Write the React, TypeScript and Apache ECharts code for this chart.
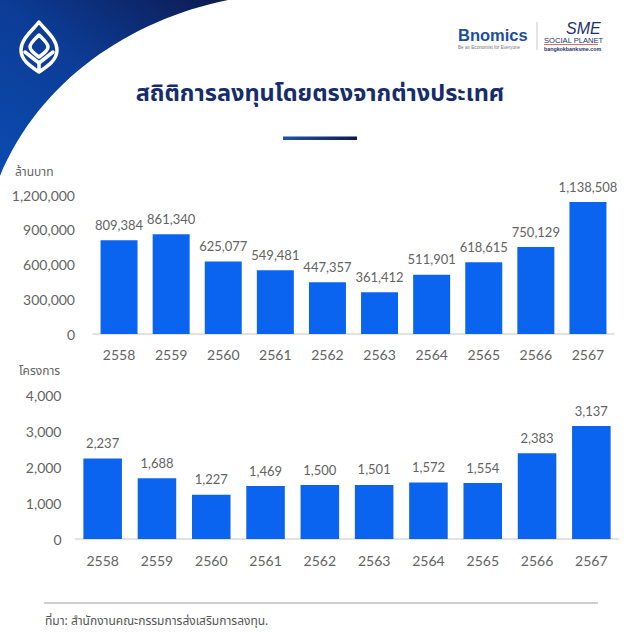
import React, { useEffect, useRef } from "react";
import * as echarts from "echarts";

const years = ["2558", "2559", "2560", "2561", "2562", "2563", "2564", "2565", "2566", "2567"];
const investValues = [809384, 861340, 625077, 549481, 447357, 361412, 511901, 618615, 750129, 1138508];
const projectValues = [2237, 1688, 1227, 1469, 1500, 1501, 1572, 1554, 2383, 3137];

const titleText = "สถิติการลงทุนโดยตรงจากต่างประเทศ";
const topAxisName = "ล้านบาท";
const bottomAxisName = "โครงการ";
const sourceText = "ที่มา: สำนักงานคณะกรรมการส่งเสริมการลงทุน.";

const FONT = "Lato, 'Noto Sans Thai', 'Noto Sans', sans-serif";
const THAI_FONT = "'Noto Sans Thai', 'Noto Sans', Lato, sans-serif";
const LOGO_FONT = "'Liberation Sans', Arial, sans-serif";
const BAR = "#0A64F0";
const GRAY = "#636363";

const fmt = (v: number) => String(v).replace(/\B(?=(\d{3})+(?!\d))/g, ",");

let registered = false;
function registerShapes() {
  if (registered) return;
  registered = true;
  echarts.graphic.registerShape(
    "cornerShape",
    echarts.graphic.extendPath("M0,0 L228,0 C130,20 40,80 0,176 Z", {})
  );
  echarts.graphic.registerShape(
    "budLogo",
    echarts.graphic.extendPath(
      "M39,22 C32,31 21,39 21,50 C21,60 30,66 39,72 C48,66 57,60 57,50 C57,39 46,31 39,22 Z " +
        "M39,35 C35,39 30,43 30,47 C30,51 35,54 39,57 C43,54 48,51 48,47 C48,43 43,39 39,35 Z " +
        "M25,52 L39,63 L53,52 M39,63 L39,71",
      {}
    )
  );
}

export default function App() {
  const ref = useRef<HTMLDivElement>(null);
  useEffect(() => {
    if (!ref.current) return;
    registerShapes();
    const chart = echarts.init(ref.current, undefined, { renderer: "svg" });
    const axisCommon = {
      axisTick: { show: false },
      axisLine: { show: true, lineStyle: { color: "#d9d9d9", width: 1.5 } },
      axisLabel: { color: GRAY, fontSize: 14, fontFamily: FONT, margin: 13 },
    };
    const labelStyle = {
      show: true,
      position: "top",
      distance: 9,
      color: GRAY,
      fontSize: 13,
      fontFamily: FONT,
      formatter: (p: any) => fmt(p.value),
    };
    chart.setOption({
      animation: false,
      backgroundColor: "#ffffff",
      grid: [
        { left: 93, top: 195, width: 521, height: 139 },
        { left: 75.5, top: 395, width: 543, height: 144 },
      ],
      xAxis: [
        { type: "category", data: years, gridIndex: 0, ...axisCommon },
        { type: "category", data: years, gridIndex: 1, ...axisCommon, axisLabel: { ...axisCommon.axisLabel, margin: 14 } },
      ],
      yAxis: [
        {
          type: "value",
          gridIndex: 0,
          min: 0,
          max: 1200000,
          interval: 300000,
          splitLine: { show: false },
          axisLine: { show: false },
          axisTick: { show: false },
          axisLabel: { color: GRAY, fontSize: 14, fontFamily: FONT, margin: 18, formatter: (v: number) => fmt(v) },
        },
        {
          type: "value",
          gridIndex: 1,
          min: 0,
          max: 4000,
          interval: 1000,
          splitLine: { show: false },
          axisLine: { show: false },
          axisTick: { show: false },
          axisLabel: { color: GRAY, fontSize: 14, fontFamily: FONT, margin: 14, formatter: (v: number) => fmt(v) },
        },
      ],
      series: [
        {
          type: "bar",
          xAxisIndex: 0,
          yAxisIndex: 0,
          data: investValues,
          barWidth: "71%",
          itemStyle: { color: BAR },
          label: labelStyle,
        },
        {
          type: "bar",
          xAxisIndex: 1,
          yAxisIndex: 1,
          data: projectValues,
          barWidth: "71%",
          itemStyle: { color: BAR },
          label: labelStyle,
        },
      ],
      graphic: [
        {
          type: "cornerShape",
          x: 0,
          y: 0,
          z: 1,
          style: {
            fill: new echarts.graphic.LinearGradient(0, 1, 1, 0, [
              { offset: 0, color: "#0b4cb0" },
              { offset: 0.5, color: "#0c3c96" },
              { offset: 1, color: "#0d1a4f" },
            ]),
          },
        },
        {
          type: "budLogo",
          x: 0,
          y: 0,
          z: 2,
          style: { fill: "none", stroke: "#ffffff", lineWidth: 3.5, lineJoin: "round", lineCap: "round" },
        },
        {
          type: "text",
          left: "center",
          top: 82,
          style: {
            text: titleText,
            fontSize: 23.5,
            fontWeight: "bold",
            fill: "#172d6b",
            fontFamily: THAI_FONT,
          },
        },
        {
          type: "rect",
          shape: { x: 283, y: 136.5, width: 74, height: 3.5 },
          style: {
            fill: new echarts.graphic.LinearGradient(0, 0, 1, 0, [
              { offset: 0, color: "#1f55a8" },
              { offset: 1, color: "#0d1a45" },
            ]),
          },
        },
        {
          type: "text",
          x: 458,
          y: 35,
          style: {
            text: "Bnomics",
            fontSize: 16.5,
            lineHeight: 16.5,
            verticalAlign: "middle",
            fontWeight: "bold",
            fill: "#1c4d9e",
            fontFamily: LOGO_FONT,
          },
        },
        {
          type: "text",
          x: 458,
          y: 47.2,
          style: {
            text: "Be an Economist for Everyone",
            fontSize: 4.6,
            lineHeight: 4.6,
            verticalAlign: "middle",
            fill: "#777777",
            fontFamily: LOGO_FONT,
          },
        },
        {
          type: "line",
          shape: { x1: 537, y1: 22, x2: 537, y2: 50 },
          style: { stroke: "#c8c8c8", lineWidth: 1 },
        },
        {
          type: "text",
          x: 566,
          y: 20,
          style: { text: "SME", fontSize: 16, lineHeight: 16, fontStyle: "italic", fill: "#1b2f6e", fontFamily: LOGO_FONT },
        },
        {
          type: "text",
          x: 544,
          y: 36,
          style: { text: "SOCIAL PLANET", fontSize: 7.6, lineHeight: 8, fill: "#1b2f6e", fontFamily: LOGO_FONT },
        },
        {
          type: "line",
          shape: { x1: 544, y1: 44.5, x2: 598, y2: 44.5 },
          style: { stroke: "#d7483a", lineWidth: 0.8 },
        },
        {
          type: "text",
          x: 544,
          y: 45.5,
          style: { text: "bangkokbanksme.com", fontSize: 5.3, lineHeight: 6, fontWeight: "bold", fill: "#1b2f6e", fontFamily: LOGO_FONT },
        },
        {
          type: "text",
          x: 15,
          y: 166,
          style: { text: topAxisName, fontSize: 12, fill: GRAY, fontFamily: THAI_FONT },
        },
        {
          type: "text",
          x: 19,
          y: 365,
          style: { text: bottomAxisName, fontSize: 12, fill: GRAY, fontFamily: THAI_FONT },
        },
        {
          type: "line",
          shape: { x1: 44, y1: 603, x2: 598, y2: 603 },
          style: { stroke: "#cfcfcf", lineWidth: 2 },
        },
        {
          type: "text",
          x: 45,
          y: 615,
          style: { text: sourceText, fontSize: 12, fill: "#555555", fontFamily: THAI_FONT },
        },
      ],
    });
    return () => chart.dispose();
  }, []);
  return <div ref={ref} style={{ position: "absolute", left: 0, top: 0, width: 640, height: 640 }} />;
}
